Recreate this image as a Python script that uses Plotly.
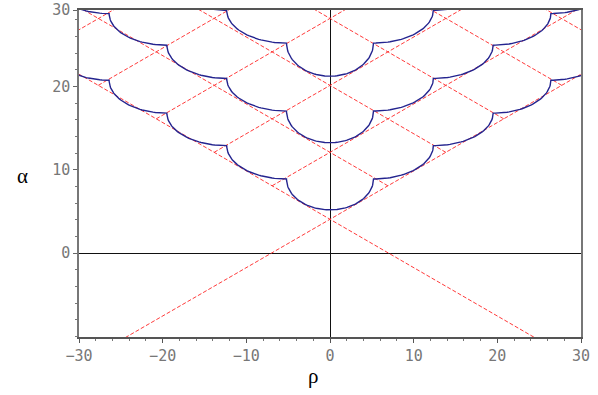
import numpy as np
import plotly.graph_objects as go

# scallop chains: node positions on the rho axis (left half, mirrored on the right)
rho_nodes = [0, 5.2, 12.35, 19.5, 26.4, 33.4]
# alpha of each node, one list per chain (bottom of the centre scale first)
chain_a = [5.2, 8.9, 12.9, 16.8, 20.75, 24.7]
chain_b = [13.25, 17.05, 20.96, 24.95, 28.74, 32.7]
chain_c = [21.23, 25.2, 29.14, 33.1, 37.0, 41.0]

# dashed lattice: crossing heights on rho = 0 and the slope of the lines
apex = 4.07
line_offsets = [12.1, 20.13, 28.16, 36.2, 44.2, 52.2]
slope = 0.58

x_range = [-30, 30]
y_range = [-10.05, 29.17]
x_ticks = [-30, -20, -10, 0, 10, 20, 30]
y_ticks = [0, 10, 20, 29.16]
y_ticktext = ["0", "10", "20", "30"]

RED = "#ff3b3b"
BLUE = "#24248f"


def chain_curve(alphas, n=40):
    """Quarter ellipses between nodes: vertical tangent at the upper node,
    horizontal tangent at the lower one."""
    xs, ys = [], []
    t = np.linspace(0, np.pi / 2, n)
    for i in range(len(rho_nodes) - 1, 0, -1):
        x1, y1 = -rho_nodes[i], alphas[i]
        x2, y2 = -rho_nodes[i - 1], alphas[i - 1]
        xs += list(x2 - (x2 - x1) * np.cos(t))
        ys += list(y1 - (y1 - y2) * np.sin(t))
    xr = [-x for x in reversed(xs)]
    yr = list(reversed(ys))
    return xs + xr, ys + yr


# red dashed lines
lx, ly = [], []
for s in (1, -1):
    # the two arms of the V run across the whole plot
    lx += [-40, 40, None]
    ly += [apex + s * slope * -40, apex + s * slope * 40, None]
for c in line_offsets:
    r0 = (c - apex) / (2 * slope)
    # positive slope, starting on the left arm
    lx += [-r0, 40, None]
    ly += [c - slope * r0, c + slope * 40, None]
    # negative slope, starting on the right arm
    lx += [r0, -40, None]
    ly += [c - slope * r0, c + slope * 40, None]

fig = go.Figure()
fig.add_trace(go.Scatter(
    x=lx, y=ly, mode="lines",
    line=dict(color=RED, width=1, dash="4px,2px"),
    hoverinfo="skip"
))

for chain in (chain_a, chain_b, chain_c):
    cx, cy = chain_curve(chain)
    fig.add_trace(go.Scatter(
        x=cx, y=cy, mode="lines",
        line=dict(color=BLUE, width=1.4),
        hoverinfo="skip"
    ))

axis_font = dict(family="DejaVu Sans Mono", size=15, color="#777")

fig.update_layout(
    width=598, height=395,
    margin=dict(l=79, r=17, t=10, b=58),
    paper_bgcolor="white", plot_bgcolor="white",
    showlegend=False,
    xaxis=dict(
        range=x_range, tickvals=x_ticks, showgrid=False, automargin=False,
        zeroline=True, zerolinecolor="#111", zerolinewidth=1,
        showline=True, mirror=True, linecolor="#555", linewidth=1.5,
        ticks="outside", ticklen=4, tickcolor="#555", tickfont=axis_font,
        ticklabeloverflow="allow",
        minor=dict(dtick=2, tick0=0, ticks="outside", ticklen=2, tickcolor="#777"),
    ),
    yaxis=dict(
        range=y_range, tickvals=y_ticks, ticktext=y_ticktext, showgrid=False,
        automargin=False,
        zeroline=True, zerolinecolor="#111", zerolinewidth=1,
        showline=True, mirror=True, linecolor="#777", linewidth=1.5,
        ticks="outside", ticklen=4, tickcolor="#666", tickfont=axis_font,
        ticklabeloverflow="allow",
        minor=dict(dtick=2, tick0=0, ticks="outside", ticklen=2, tickcolor="#777"),
    ),
    annotations=[
        dict(text="ρ", x=0.467, y=-0.119, xref="paper", yref="paper",
             xanchor="center", yanchor="middle", showarrow=False,
             font=dict(family="Liberation Serif", size=21, color="black")),
        dict(text="α", x=-0.112, y=0.492, xref="paper", yref="paper",
             xanchor="center", yanchor="middle", showarrow=False,
             font=dict(family="Liberation Serif", size=21, color="black")),
    ],
)

# drop the page's default body margin so the figure fills the window
fig.write_html(
    "out.html",
    config={"displayModeBar": False},
    post_script="document.body.style.margin = '0';",
)
